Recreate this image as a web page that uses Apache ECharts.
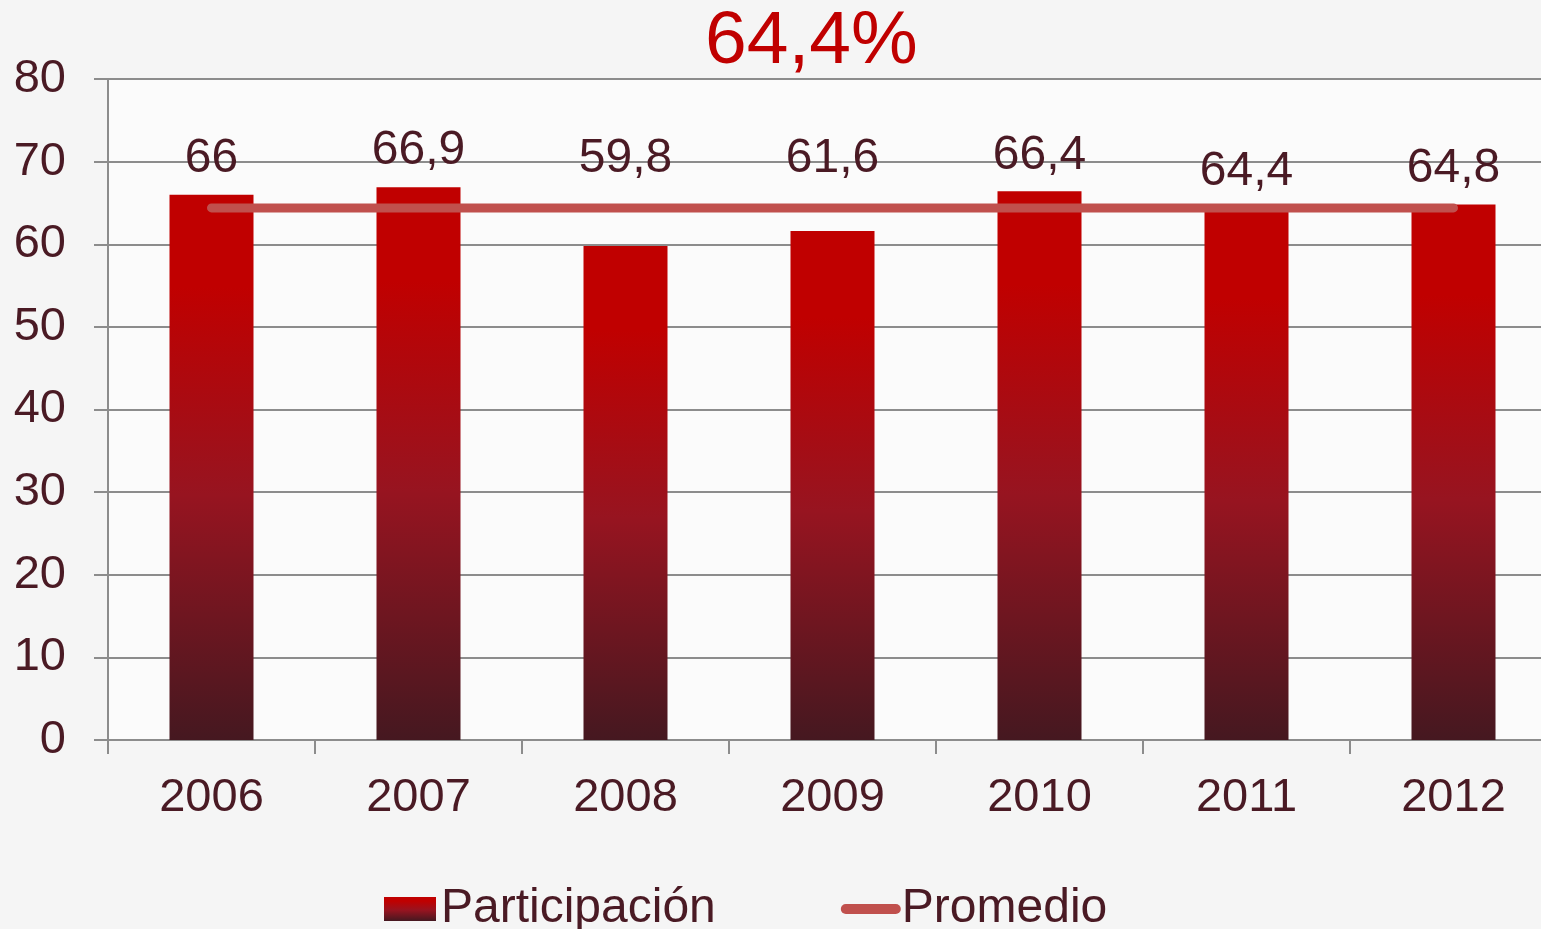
<!DOCTYPE html>
<html>
<head>
<meta charset="utf-8">
<script src="https://cdn.jsdelivr.net/npm/echarts@6/dist/echarts.min.js"></script>
<style>
  html, body { margin: 0; padding: 0; background: #f5f5f5; overflow: hidden; }
  /* el area del grafico sigue un poco mas alla del borde derecho, como en el original */
  #chart { width: 1557px; height: 929px; }
</style>
</head>
<body>
<div id="chart"></div>
<script>
  // datos
  let years = ['2006', '2007', '2008', '2009', '2010', '2011', '2012'];
  let participacion = [66, 66.9, 59.8, 61.6, 66.4, 64.4, 64.8];
  let promedio = [64.4, 64.4, 64.4, 64.4, 64.4, 64.4, 64.4];
  let tituloTexto = '64,4%';

  let txtColor = '#4a1a24';
  let gridColor = '#8c8c8c';
  let fontFam = '"Liberation Sans", Arial, sans-serif';

  // etiquetas de 2008 y 2009 subidas para no chocar con la linea del promedio
  let labelDist = { '2008': 63, '2009': 48 };

  let barData = participacion.map(function (v, i) {
    let item = { value: v };
    if (labelDist[years[i]]) {
      item.label = { distance: labelDist[years[i]] };
    }
    return item;
  });

  let myChart = echarts.init(document.getElementById('chart'));
  myChart.setOption({
    backgroundColor: '#f5f5f5',
    textStyle: { fontFamily: fontFam },
    title: {
      text: tituloTexto,
      left: 700,
      top: 0,
      textStyle: { color: '#c00000', fontSize: 75, fontWeight: 'normal', fontFamily: fontFam }
    },
    legend: {
      left: 379,
      top: 880,
      itemWidth: 60,
      itemHeight: 24,
      itemGap: 125,
      symbolKeepAspect: true,
      textStyle: { color: txtColor, fontSize: 48, padding: [0, 0, 0, -4] },
      data: [
        { name: 'Participación', icon: 'path://M0,0H52V24H0Z' },
        { name: 'Promedio', icon: 'path://M5,0H55A5,5 0 0 1 55,10H5A5,5 0 0 1 5,0Z', itemStyle: { color: '#c0504d' } }
      ]
    },
    grid: {
      left: 108,
      right: 0,
      top: 79,
      bottom: 189,
      show: true,
      borderWidth: 0,
      backgroundColor: '#fbfbfb'
    },
    xAxis: {
      type: 'category',
      data: years,
      axisLine: { lineStyle: { color: gridColor, width: 2 } },
      axisTick: { show: true, length: 14, lineStyle: { color: gridColor, width: 2 } },
      axisLabel: { color: txtColor, fontSize: 47, margin: 35 }
    },
    yAxis: {
      type: 'value',
      min: 0,
      max: 80,
      interval: 10,
      axisLine: { show: true, lineStyle: { color: gridColor, width: 2 } },
      axisTick: { show: true, length: 14, lineStyle: { color: gridColor, width: 2 } },
      splitLine: { lineStyle: { color: gridColor, width: 2 } },
      axisLabel: { color: txtColor, fontSize: 47, margin: 42 }
    },
    series: [
      {
        name: 'Participación',
        type: 'bar',
        barWidth: 84,
        data: barData,
        itemStyle: {
          color: new echarts.graphic.LinearGradient(0, 0, 0, 1, [
            { offset: 0, color: '#c00000' },
            { offset: 0.17, color: '#c00000' },
            { offset: 0.55, color: '#971420' },
            { offset: 1, color: '#451820' }
          ])
        },
        label: {
          show: true,
          position: 'top',
          distance: 12,
          color: txtColor,
          fontSize: 48,
          formatter: function (p) {
            return String(p.value).replace('.', ',');
          }
        },
        z: 2
      },
      {
        name: 'Promedio',
        type: 'line',
        data: promedio,
        symbol: 'none',
        lineStyle: { color: '#c0504d', width: 9, cap: 'round' },
        itemStyle: { color: '#c0504d' },
        z: 3
      }
    ]
  });
</script>
</body>
</html>
